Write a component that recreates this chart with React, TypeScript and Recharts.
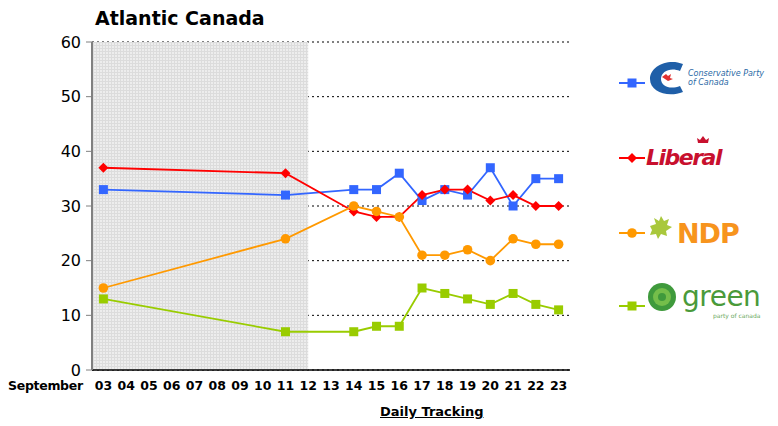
import { CartesianGrid, Line, LineChart, ReferenceArea, XAxis, YAxis } from "recharts";

const DAYS = ["03", "04", "05", "06", "07", "08", "09", "10", "11", "12", "13", "14", "15", "16", "17", "18", "19", "20", "21", "22", "23"];
const CONSERVATIVE = [33, null, null, null, null, null, null, null, 32, null, null, 33, 33, 36, 31, 33, 32, 37, 30, 35, 35];
const LIBERAL = [37, null, null, null, null, null, null, null, 36, null, null, 29, 28, 28, 32, 33, 33, 31, 32, 30, 30];
const NDP = [15, null, null, null, null, null, null, null, 24, null, null, 30, 29, 28, 21, 21, 22, 20, 24, 23, 23];
const GREEN = [13, null, null, null, null, null, null, null, 7, null, null, 7, 8, 8, 15, 14, 13, 12, 14, 12, 11];
const Y_TICKS = [0, 10, 20, 30, 40, 50, 60];

const COLORS = {
  cpc: "#3366ff",
  lib: "#ff0000",
  ndp: "#ff9900",
  green: "#99cc00",
};

const data = DAYS.map((day, i) => ({
  day,
  idx: i,
  cpc: CONSERVATIVE[i],
  lib: LIBERAL[i],
  ndp: NDP[i],
  green: GREEN[i],
}));

const FONT = "'DejaVu Sans', Verdana, sans-serif";

type Shape = "square" | "diamond" | "circle";

const makeDot = (shape: Shape, color: string) => (props: any) => {
  const { cx, cy, value, index } = props;
  if (value == null || cy == null || isNaN(cy)) return <g key={index} />;
  if (shape === "square") {
    return <rect key={index} x={cx - 4.5} y={cy - 4.5} width={9} height={9} fill={color} />;
  }
  if (shape === "diamond") {
    return (
      <polygon
        key={index}
        points={`${cx},${cy - 5} ${cx + 5},${cy} ${cx},${cy + 5} ${cx - 5},${cy}`}
        fill={color}
      />
    );
  }
  return <circle key={index} cx={cx} cy={cy} r={4.8} fill={color} />;
};

function LegendMark({ y, color, shape }: { y: number; color: string; shape: Shape }) {
  return (
    <g>
      <line x1={619} x2={645} y1={y} y2={y} stroke={color} strokeWidth={2} />
      {makeDot(shape, color)({ cx: 632, cy: y, value: 1, index: 0 })}
    </g>
  );
}

function Legend() {
  return (
    <svg width={778} height={426} style={{ position: "absolute", left: 0, top: 0, pointerEvents: "none" }}>
      {/* Conservative */}
      <LegendMark y={83} color={COLORS.cpc} shape="square" />
      <path
        d="M683 64 C668 58 650 66 650 79 C650 92 668 98 683 92 L680 86 C670 90 661 86 661 79 C661 71 671 67 680 71 Z"
        fill="#1f5fa8"
      />
      <path d="M662 77 l4 -3 l2 2 l3 -2 l-1 4 l3 1 l-5 2 z" fill="#e03030" />
      <text x={688} y={76} fontFamily={FONT} fontSize={8} fontStyle="italic" fill="#2b6aa6">
        Conservative Party
      </text>
      <text x={688} y={85} fontFamily={FONT} fontSize={8} fontStyle="italic" fill="#2b6aa6">
        of Canada
      </text>

      {/* Liberal */}
      <LegendMark y={158} color={COLORS.lib} shape="diamond" />
      <path d="M700 140 l3 -4 l3 4 l3 -2 l-1 5 h-10 l-1 -5 z" fill="#c8102e" />
      <text x={646} y={165} fontFamily={FONT} fontSize={22} fontWeight="bold" fontStyle="italic" fill="#c8102e" letterSpacing={-1.5}>
        Liberal
      </text>

      {/* NDP */}
      <LegendMark y={233} color={COLORS.ndp} shape="circle" />
      <path
        d="M650 226 l6 -2 l-2 -6 l5 3 l2 -5 l3 5 l5 -2 l-2 6 l5 2 l-6 4 l1 5 l-6 -2 l-3 5 l-2 -5 l-6 1 l2 -5 z"
        fill="#a9c83c"
      />
      <text x={677} y={243} fontFamily={FONT} fontSize={27} fontWeight="bold" fill="#f7941d" letterSpacing={-1}>
        NDP
      </text>

      {/* Green */}
      <LegendMark y={306} color={COLORS.green} shape="square" />
      <circle cx={662} cy={297} r={14} fill="#3f9a3c" />
      <circle cx={662} cy={297} r={9} fill="#74be4a" />
      <circle cx={662} cy={297} r={4} fill="#3f9a3c" />
      <text x={682} y={306} fontFamily={FONT} fontSize={28} fill="#4a9a3a" letterSpacing={-0.5}>
        green
      </text>
      <text x={713} y={318} fontFamily={FONT} fontSize={6} fill="#6aa860">
        party of canada
      </text>
    </svg>
  );
}

export default function App() {
  return (
    <div style={{ position: "absolute", left: 0, top: 0, width: 778, height: 426, background: "#fff", fontFamily: FONT }}>
      <div style={{ position: "absolute", left: 95, top: 7, fontSize: 19, fontWeight: "bold", color: "#000", whiteSpace: "nowrap" }}>
        Atlantic Canada
      </div>
      <LineChart width={778} height={426} data={data} margin={{ top: 42, right: 208, left: 0, bottom: 0 }}>
        <defs>
          <pattern id="shadeGrid" width={3} height={3} patternUnits="userSpaceOnUse">
            <rect width={3} height={3} fill="#ededed" />
            <path d="M0 0.5 H3 M0.5 0 V3" stroke="#dcdcdc" strokeWidth={1} />
          </pattern>
        </defs>
        <CartesianGrid vertical={false} stroke="#000" strokeDasharray="2 3" />
        <XAxis
          dataKey="day"
          height={56}
          interval={0}
          padding={{ left: 11.4, right: 11.4 }}
          tickLine={false}
          axisLine={{ stroke: "#000", strokeWidth: 1.5 }}
          tickMargin={5}
          tick={{ fontSize: 12.5, fontWeight: "bold", fill: "#000", fontFamily: FONT }}
        />
        <XAxis xAxisId="n" dataKey="idx" type="number" domain={[-0.5, 20.5]} hide />
        <YAxis
          width={92}
          domain={[0, 60]}
          ticks={Y_TICKS}
          interval={0}
          axisLine={{ stroke: "#808080", strokeWidth: 2 }}
          tickLine={{ stroke: "#808080" }}
          tickSize={6}
          tickMargin={5}
          tick={{ fontSize: 16, fill: "#000", fontFamily: FONT }}
        />
        <ReferenceArea xAxisId="n" x1={-0.5} x2={9} y1={0} y2={60} fill="url(#shadeGrid)" fillOpacity={1} stroke="none" />
        <Line dataKey="cpc" stroke={COLORS.cpc} strokeWidth={1.8} connectNulls dot={makeDot("square", COLORS.cpc)} activeDot={false} isAnimationActive={false} />
        <Line dataKey="lib" stroke={COLORS.lib} strokeWidth={1.8} connectNulls dot={makeDot("diamond", COLORS.lib)} activeDot={false} isAnimationActive={false} />
        <Line dataKey="ndp" stroke={COLORS.ndp} strokeWidth={1.8} connectNulls dot={makeDot("circle", COLORS.ndp)} activeDot={false} isAnimationActive={false} />
        <Line dataKey="green" stroke={COLORS.green} strokeWidth={1.8} connectNulls dot={makeDot("square", COLORS.green)} activeDot={false} isAnimationActive={false} />
      </LineChart>
      <div style={{ position: "absolute", left: 8, top: 378, fontSize: 12.5, fontWeight: "bold", color: "#000", letterSpacing: -0.3 }}>September</div>
      <div style={{ position: "absolute", left: 380, top: 404, fontSize: 13, fontWeight: "bold", color: "#000", textDecoration: "underline" }}>
        Daily Tracking
      </div>
      <Legend />
    </div>
  );
}
